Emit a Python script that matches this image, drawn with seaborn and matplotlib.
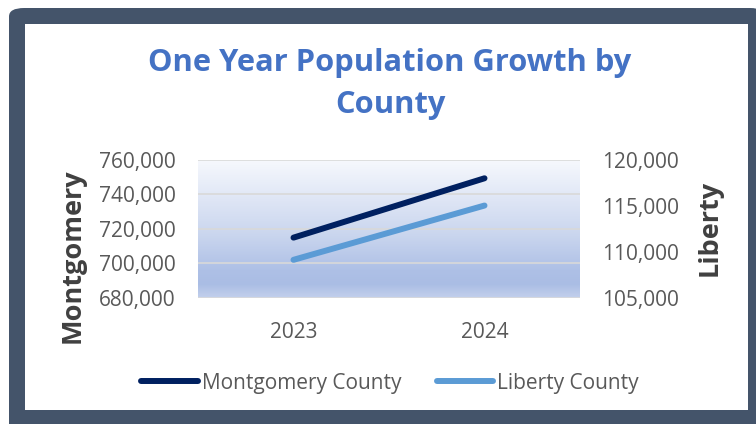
import numpy as np
import pandas as pd
import matplotlib
matplotlib.use("Agg")
import matplotlib.pyplot as plt
from matplotlib.patches import FancyBboxPatch, Rectangle
from matplotlib.lines import Line2D
from matplotlib.colors import LinearSegmentedColormap
from matplotlib.ticker import FuncFormatter
import seaborn as sns

years = ["2023", "2024"]
montgomery = [715000, 749400]
liberty = [109150, 115050]
left_ticks = [680000, 700000, 720000, 740000, 760000]
right_ticks = [105000, 110000, 115000, 120000]

sns.set_theme(style="white")
plt.rcParams["font.family"] = ["Open Sans", "DejaVu Sans"]

W, H = 756, 424
fig = plt.figure(figsize=(W / 100, H / 100), dpi=100)
fig.patch.set_facecolor("white")

# frame
frame = FancyBboxPatch((9 / W, -0.05), 1.0, 1 - 8 / H + 0.05, boxstyle="round,pad=0,rounding_size=0.02",
                       transform=fig.transFigure, facecolor="#44546A", edgecolor="none", zorder=-10)
fig.patches.append(frame)
inner = Rectangle((25 / W, 1 - 410 / H), (748 - 25) / W, (410 - 24) / H, transform=fig.transFigure,
                  facecolor="white", edgecolor="none", zorder=-9)
fig.patches.append(inner)

ax = fig.add_axes([198 / W, 1 - 298 / H, (580 - 198) / W, (298 - 160) / H])
ax.set_facecolor("none")

df = pd.DataFrame({"Year": years, "Montgomery County": montgomery, "Liberty County": liberty})

grad_cmap = LinearSegmentedColormap.from_list(
    "g", [(0.0, "#F6F8FD"), (0.55, "#C9D5EE"), (0.8, "#AEC0E6"), (0.9, "#AABDE4"), (1.0, "#C3D0EC")])
grad = np.linspace(0, 1, 256).reshape(-1, 1)
ax.imshow(grad, cmap=grad_cmap, extent=[0, 1, 0, 1], transform=ax.transAxes, aspect="auto", zorder=0)

navy = "#002060"
light = "#5B9BD5"
sns.lineplot(data=df, x="Year", y="Montgomery County", ax=ax, color=navy, linewidth=4.3,
             solid_capstyle="round", zorder=3)
ax.set_xlim(-0.5, 1.5)
ax.set_ylim(680000, 760000)
ax.set_yticks(left_ticks)
fmt = FuncFormatter(lambda v, p: f"{int(v):,}")
ax.yaxis.set_major_formatter(fmt)
ax.grid(axis="y", color="#D9D9D9", linewidth=1.2, zorder=1)
ax.set_axisbelow(True)
for s in ax.spines.values():
    s.set_visible(False)
ax.tick_params(axis="both", length=0, labelsize=15, colors="#595959")
ax.tick_params(axis="y", pad=16)
ax.tick_params(axis="x", pad=17)
ax.set_xlabel("")
ax.set_ylabel("")

ax2 = ax.twinx()
sns.lineplot(data=df, x="Year", y="Liberty County", ax=ax2, color=light, linewidth=4.3,
             solid_capstyle="round", zorder=3)
ax2.set_xlim(-0.5, 1.5)
ax2.set_ylim(105000, 120000)
ax2.set_yticks(right_ticks)
ax2.yaxis.set_major_formatter(fmt)
ax2.grid(False)
for s in ax2.spines.values():
    s.set_visible(False)
ax2.tick_params(axis="y", length=0, labelsize=15, colors="#595959", pad=16)
ax2.set_ylabel("")

fig.text(73 / W, 1 - 256 / H, "Montgomery", rotation=90, ha="center", va="center",
         fontsize=19.5, fontweight="bold", color="#404040")
fig.text(710 / W, 1 - 228 / H, "Liberty", rotation=90, ha="center", va="center",
         fontsize=19.5, fontweight="bold", color="#404040")

fig.text(390 / W, 1 - 84 / H, "One Year Population Growth by\nCounty", ha="center", va="center",
         fontsize=22.2, fontweight="bold", color="#4472C4", linespacing=1.48)

handles = [Line2D([0], [0], color=navy, lw=4.3, solid_capstyle="round"),
           Line2D([0], [0], color=light, lw=4.3, solid_capstyle="round")]
leg = fig.legend(handles, ["Montgomery County", "Liberty County"], loc="center",
                 bbox_to_anchor=(390 / W, 1 - 383 / H), ncol=2, frameon=False, fontsize=15,
                 handlelength=2.7, handletextpad=0.2, columnspacing=1.7)
for t in leg.get_texts():
    t.set_color("#595959")

fig.savefig("out.png", dpi=100)
